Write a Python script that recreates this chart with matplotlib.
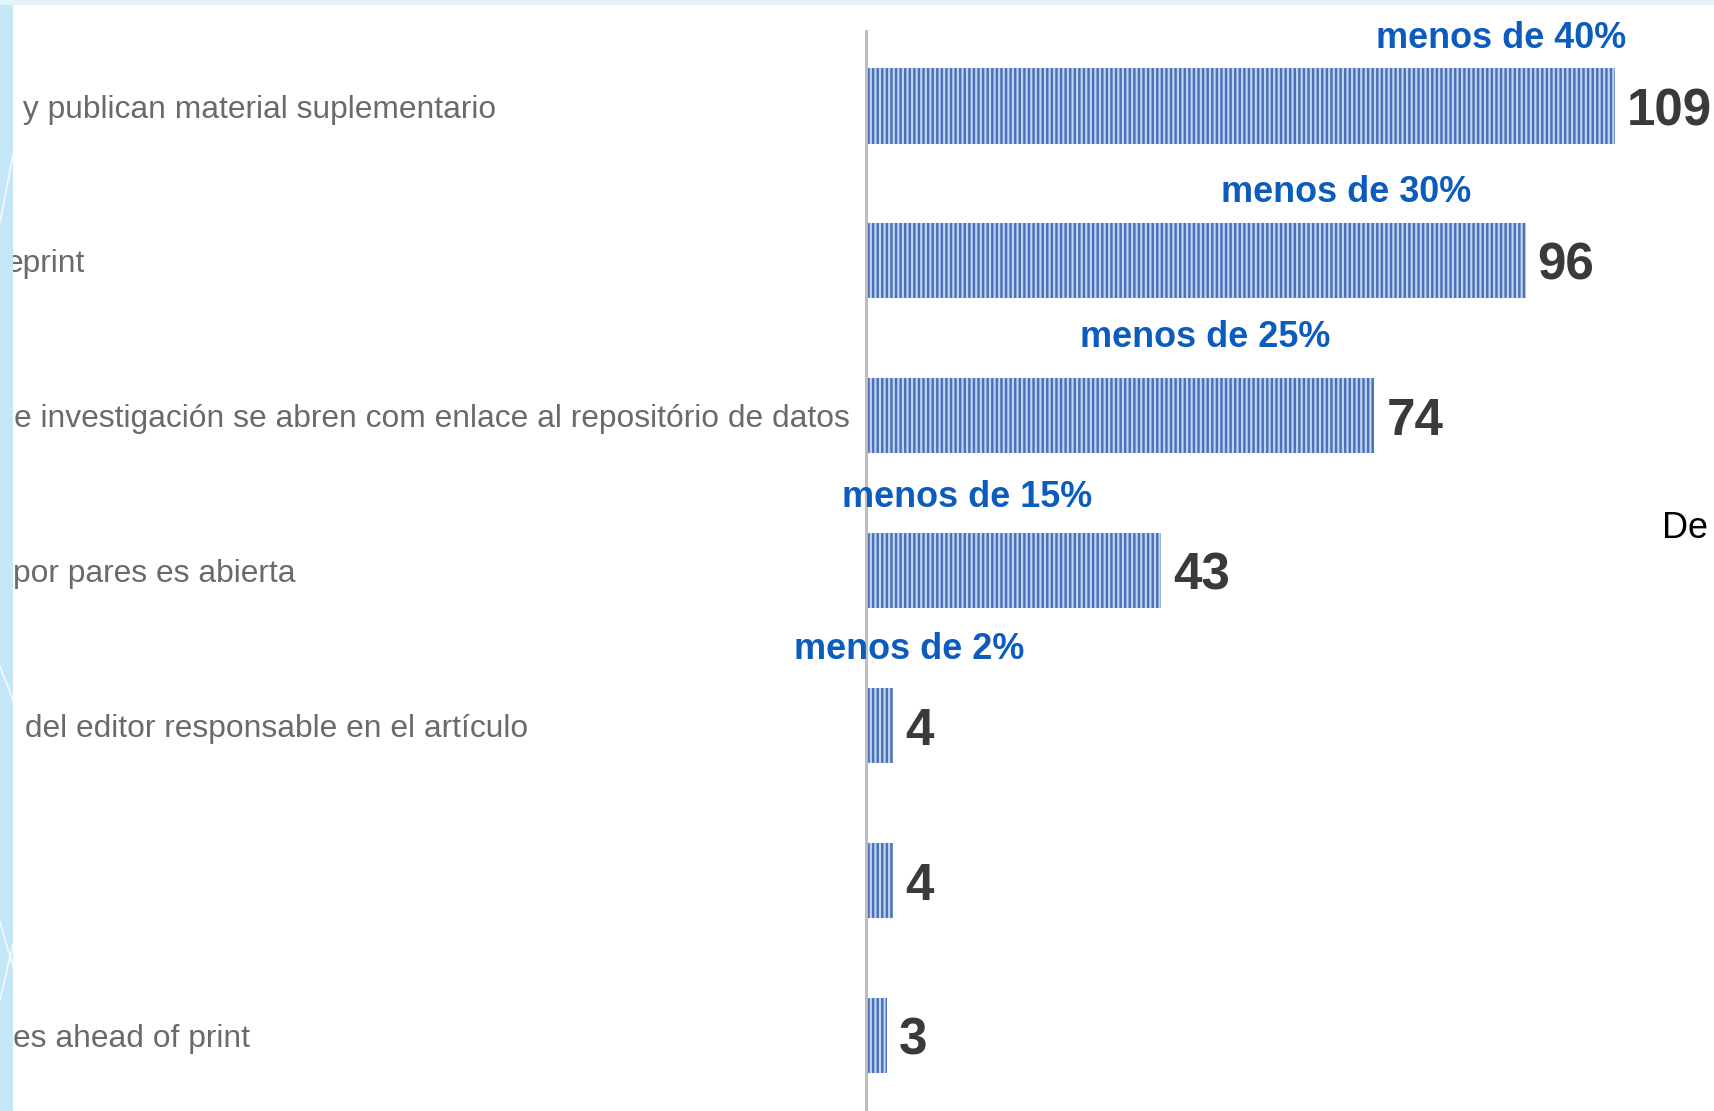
import matplotlib
matplotlib.use("Agg")
import matplotlib.pyplot as plt
from matplotlib.patches import Rectangle
from matplotlib.transforms import blended_transform_factory

plt.rcParams['font.family'] = ['Liberation Sans', 'DejaVu Sans']
plt.rcParams['hatch.linewidth'] = 1.6

# ---- data ----
categories = [
    " y publican material suplementario",
    "eprint",
    "e investigación se abren com enlace al repositório de datos",
    "por pares es abierta",
    " del editor responsable en el artículo",
    "",
    "es ahead of print",
]
values = [109, 96, 74, 43, 4, 4, 3]
notes = ["menos de 40%", "menos de 30%", "menos de 25%", "menos de 15%", "menos de 2%"]

# ---- layout (not data) ----
note_x = [92.4, 69.9, 49.3, 14.7, 6.3]
note_dy = [0.435, 0.44, 0.505, 0.475, 0.49]
label_x_px = [14, 6, 14, 13, 16, 14, 13]

DPI = 110
W, H = 1714, 1111
fig = plt.figure(figsize=(W / DPI, H / DPI), dpi=DPI)
ax = fig.add_axes([0, 0, 1, 1])
ppu = 6.87
x0 = 866
ax.set_xlim(-x0 / ppu, (W - x0) / ppu)
c0, step = 106, 154.9
ax.set_ylim((H - c0) / step, -c0 / step)
ax.axis('off')

pos = list(range(len(values)))
ax.barh(pos, values, height=0.485, color='#BCD7F6', edgecolor='#4F70B6',
        linewidth=0, hatch='||||', zorder=2)

ax.axvline(0, ymin=0, ymax=1 - 31 / H, color='#BDBDBD', lw=2.0, zorder=3)

for i, v in enumerate(values):
    ax.annotate(str(v), (v, i), xytext=(8, 0), textcoords='offset points',
                ha='left', va='center_baseline', fontsize=33.5, fontweight='bold',
                color='#3A3A3A', zorder=4)

tr = blended_transform_factory(fig.transFigure, ax.transData)
for i, lab in enumerate(categories):
    ax.text(label_x_px[i] / W, i, lab, transform=tr, ha='left', va='center_baseline',
            fontsize=20.8, color='#6A6A6A', zorder=1)

for i, t in enumerate(notes):
    ax.text(note_x[i], i - note_dy[i], t, ha='center', va='center',
            fontsize=23.6, fontweight='bold', color='#0B5CBD', zorder=5)

fig.text(1662 / W, 1 - 529 / H, "De", ha='left', va='center', fontsize=23.6,
         color='black')

# slide background decorations
fig.patches.append(Rectangle((0, 0), 13 / W, 1, transform=fig.transFigure,
                             facecolor='#C3E7F6', edgecolor='none', zorder=10))
fig.patches.append(Rectangle((0, 1 - 5 / H), 1, 5 / H, transform=fig.transFigure,
                             facecolor='#E4F3FA', edgecolor='none', zorder=10))
for (xa, ya, xb, yb) in [(0, 0.80, 13, 0.86), (0, 0.17, 13, 0.13), (0, 0.10, 13, 0.15), (0, 0.40, 13, 0.37)]:
    fig.add_artist(plt.Line2D([xa / W, xb / W], [ya, yb], transform=fig.transFigure,
                              color='white', lw=1.1, alpha=0.8, zorder=11))

fig.savefig("out.png", dpi=DPI)
